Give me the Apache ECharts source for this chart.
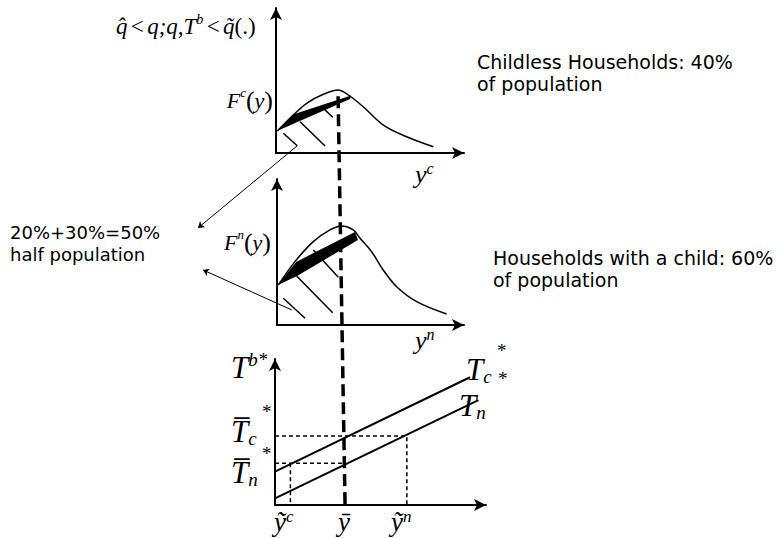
<!DOCTYPE html>
<html><head><meta charset="utf-8">
<script src="https://cdn.jsdelivr.net/npm/echarts@6/dist/echarts.min.js"></script>
<style>html,body{margin:0;padding:0;background:#fff}#c{width:781px;height:538px}</style>
</head><body><div id="c"></div><script>
// ---- data (income on x, density / transfer on y) ----
const CHILDLESS_DENSITY = [[0.07,1.52],[0.92,2.62],[1.63,3.43],[2.52,4.05],[3.31,4.34],[3.85,4.00],[4.64,3.19],[5.71,1.93],[6.95,1.12],[8.37,0.43]];
const CHILDLESS_BAND = [[0.05,1.52],[0.90,2.66],[3.99,3.97],[3.94,3.72]];
const CHILDLESS_HATCH = [[[0.39,1.36],[1.13,0.50]],[[1.28,2.16],[2.61,0.48]],[[2.52,3.08],[3.02,2.46]]];
const CHILDLESS_POINTER = [[1.13,0.50],[-4.15,-5.17]];

const CHILD_DENSITY = [[0.07,2.74],[0.96,4.34],[1.94,5.71],[2.83,6.51],[3.46,6.78],[4.08,6.51],[4.44,5.94],[5.06,5.02],[5.68,3.77],[6.40,2.62],[7.47,1.60],[9.07,0.75]];
const CHILD_BAND = [[0.05,2.74],[1.02,4.32],[4.17,6.37],[4.33,5.82],[1.07,3.36]];
const CHILD_HATCH = [[[1.94,5.14],[3.28,3.27]],[[1.05,3.36],[2.98,0.84]],[[0.34,1.83],[1.50,0.46]]];
const CHILD_POINTER = [[0.79,1.03],[-3.96,3.77]];

const T_C = [[0,2.28],[9.24,8.75]];
const T_N = [[0,0.46],[9.64,7.19]];
const Y_BAR = 3.32, YC_TILDE = 0.73, YN_TILDE = 6.25;
const TC_BAR = 4.72, TN_BAR = 2.86;
const Y_BAR_GUIDE = [[2.99,28],[3.32,0]];

const BLACK = '#000';
const SERIF = '"Liberation Serif","Times New Roman",serif';
const SANS = '"DejaVu Sans",Verdana,sans-serif';

function axisPair(idx, xMax, yMax, show){
  const line = {show:show, onZero:false, symbol:['none','arrow'], symbolSize:[9,12], lineStyle:{color:BLACK,width:2}};
  return {
    x:{type:'value', gridIndex:idx, min:0, max:xMax, axisLine:line, axisTick:{show:false}, axisLabel:{show:false}, splitLine:{show:false}},
    y:{type:'value', gridIndex:idx, min:0, max:yMax, axisLine:line, axisTick:{show:false}, axisLabel:{show:false}, splitLine:{show:false}}
  };
}
const a0 = axisPair(0,10,10,true), a1 = axisPair(1,10,10,true), a2 = axisPair(2,10,10,true), a3 = axisPair(3,10,28,false);

function band(idx, pts){
  return {type:'custom', xAxisIndex:idx, yAxisIndex:idx, data:[[0,0]], z:4, silent:true,
    renderItem:(p, api)=>({type:'polygon', shape:{points:pts.map(q=>api.coord(q))}, style:{fill:BLACK}})};
}
function segs(idx, list, w){
  return {type:'lines', coordinateSystem:'cartesian2d', xAxisIndex:idx, yAxisIndex:idx, clip:false, z:4, silent:true,
    lineStyle:{color:BLACK, width:w, opacity:1}, symbol:'none', data:list.map(c=>({coords:c}))};
}
function pointer(idx, c){
  return {type:'lines', coordinateSystem:'cartesian2d', xAxisIndex:idx, yAxisIndex:idx, clip:false, z:4, silent:true,
    lineStyle:{color:BLACK, width:1, opacity:1}, symbol:['none','arrow'], symbolSize:6, data:[{coords:c}]};
}
function curve(idx, d, w, extra){
  return Object.assign({type:'line', xAxisIndex:idx, yAxisIndex:idx, data:d, symbol:'none', silent:true,
    lineStyle:{color:BLACK, width:w}, z:3}, extra||{});
}
const dashed = {color:BLACK,width:1.5,type:[4,3]};
function txt(x, y, s, font, extra){
  return {type:'text', x:x, y:y, style:Object.assign({text:s, font:font, verticalAlign:'middle', align:'left', fill:BLACK}, extra||{})};
}
function sub(x, y, main, s){
  return {type:'text', x:x, y:y, style:{text:'{t|'+main+'}{s|'+s+'}', verticalAlign:'middle', align:'left',
    rich:{t:{font:'italic 31px '+SERIF, lineHeight:34, fill:BLACK}, s:{font:'italic 19px '+SERIF, verticalAlign:'bottom', fill:BLACK}}}};
}

const chart = echarts.init(document.getElementById('c'), null, {renderer:'svg'});
chart.setOption({
  animation:false,
  backgroundColor:'#fff',
  grid:[
    {left:276, top:8, width:188, height:145},
    {left:277, top:179, width:187, height:146},
    {left:275, top:359, width:211, height:146},
    {left:275, top:96.2, width:211, height:408.8}
  ],
  xAxis:[a0.x, a1.x, a2.x, a3.x],
  yAxis:[a0.y, a1.y, a2.y, a3.y],
  series:[
    curve(3, Y_BAR_GUIDE, 3.5, {z:2, lineStyle:{color:BLACK,width:3.5,type:[12,6]}}),
    curve(0, CHILDLESS_DENSITY, 1.5, {smooth:0.35}),
    band(0, CHILDLESS_BAND),
    segs(0, CHILDLESS_HATCH, 1.5),
    pointer(0, CHILDLESS_POINTER),
    curve(1, CHILD_DENSITY, 1.5, {smooth:0.35}),
    band(1, CHILD_BAND),
    segs(1, CHILD_HATCH, 1.5),
    pointer(1, CHILD_POINTER),
    curve(2, T_C, 2),
    curve(2, T_N, 2),
    curve(2, [[0,TC_BAR],[YN_TILDE,TC_BAR],[YN_TILDE,0]], 1.5, {lineStyle:dashed}),
    curve(2, [[0,TN_BAR],[Y_BAR,TN_BAR]], 1.5, {lineStyle:dashed}),
    curve(2, [[YC_TILDE,TN_BAR],[YC_TILDE,0]], 1.5, {lineStyle:dashed})
  ],
  graphic:[
    {type:'text', x:116, y:26, style:{text:'{i|q\u0302} {r|<} {i|q;q,T}{u|b} {r|<} {i|q\u0303}{r|(.)}', verticalAlign:'middle', align:'left',
      rich:{i:{font:'italic 23px '+SERIF, lineHeight:28}, r:{font:'23px '+SERIF, lineHeight:28}, u:{font:'italic 14px '+SERIF, verticalAlign:'top'}}}},
    {type:'text', x:273, y:100, style:{text:'{i|F}{u|c}{p|(}{i|y}{p|)}', verticalAlign:'middle', align:'right',
      rich:{i:{font:'italic 22px '+SERIF, lineHeight:28}, p:{font:'26px '+SERIF, lineHeight:28}, u:{font:'italic 13px '+SERIF, verticalAlign:'top'}}}},
    {type:'text', x:271, y:242, style:{text:'{i|F}{u|n}{p|(}{i|y}{p|)}', verticalAlign:'middle', align:'right',
      rich:{i:{font:'italic 22px '+SERIF, lineHeight:28}, p:{font:'26px '+SERIF, lineHeight:28}, u:{font:'italic 13px '+SERIF, verticalAlign:'top'}}}},
    {type:'text', x:415, y:174, style:{text:'{i|y}{u|c}', verticalAlign:'middle', align:'left',
      rich:{i:{font:'italic 26px '+SERIF, lineHeight:28}, u:{font:'italic 16px '+SERIF, verticalAlign:'top'}}}},
    {type:'text', x:415, y:340, style:{text:'{i|y}{u|n}', verticalAlign:'middle', align:'left',
      rich:{i:{font:'italic 26px '+SERIF, lineHeight:28}, u:{font:'italic 16px '+SERIF, verticalAlign:'top'}}}},
    {type:'text', x:231, y:367, style:{text:'{i|T}{u|b*}', verticalAlign:'middle', align:'left',
      rich:{i:{font:'italic 31px '+SERIF, lineHeight:34}, u:{font:'italic 19px '+SERIF, verticalAlign:'top'}}}},
    sub(231, 431, 'T\u0305', 'c'),
    txt(262, 411, '*', '19px '+SERIF),
    sub(231, 472, 'T\u0305', 'n'),
    txt(262, 453, '*', '19px '+SERIF),
    sub(466, 369, 'T', 'c'),
    txt(497, 350, '*', '19px '+SERIF),
    sub(459, 405, 'T', 'n'),
    txt(498, 378, '*', '19px '+SERIF),
    {type:'text', x:274, y:522, style:{text:'{i|\u1EF9}{u|c}', verticalAlign:'middle', align:'left',
      rich:{i:{font:'italic 27px '+SERIF, lineHeight:28}, u:{font:'italic 17px '+SERIF, verticalAlign:'top'}}}},
    txt(338, 522, '\u0233', 'italic 27px '+SERIF),
    {type:'text', x:391, y:522, style:{text:'{i|\u1EF9}{u|n}', verticalAlign:'middle', align:'left',
      rich:{i:{font:'italic 27px '+SERIF, lineHeight:28}, u:{font:'italic 17px '+SERIF, verticalAlign:'top'}}}},
    txt(477, 73, 'Childless Households: 40%\nof population', '19px '+SANS, {lineHeight:22}),
    txt(493, 269, 'Households with a child: 60%\nof population', '19px '+SANS, {lineHeight:22}),
    txt(10, 243, '20%+30%=50%\nhalf population', '18px '+SANS, {lineHeight:22})
  ]
});
</script></body></html>
